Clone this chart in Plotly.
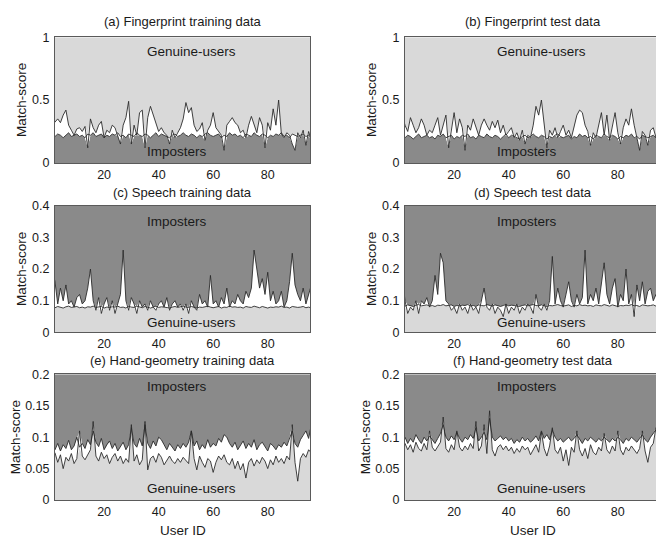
import plotly.graph_objects as go

# ---------------- data ----------------
user_ids = list(range(1, 97))

fp_train_imposter = [
    0.22, 0.21, 0.23, 0.22, 0.20, 0.22, 0.24, 0.21, 0.22, 0.23, 0.21, 0.22,
    0.20, 0.23, 0.22, 0.24, 0.21, 0.22, 0.23, 0.20, 0.22, 0.21, 0.23, 0.22,
    0.24, 0.21, 0.22, 0.20, 0.23, 0.22, 0.21, 0.24, 0.22, 0.21, 0.23, 0.22,
    0.20, 0.22, 0.24, 0.21, 0.23, 0.22, 0.21, 0.20, 0.22, 0.23, 0.21, 0.22,
    0.24, 0.22, 0.21, 0.23, 0.22, 0.20, 0.22, 0.21, 0.23, 0.24, 0.22, 0.21,
    0.22, 0.23, 0.20, 0.22, 0.21, 0.24, 0.22, 0.23, 0.21, 0.22, 0.20, 0.23,
    0.22, 0.21, 0.24, 0.22, 0.21, 0.23, 0.22, 0.20, 0.22, 0.21, 0.23, 0.22,
    0.24, 0.21, 0.22, 0.20, 0.23, 0.22, 0.21, 0.22, 0.23, 0.21, 0.22, 0.20]
fp_train_genuine = [
    0.30, 0.33, 0.35, 0.32, 0.38, 0.42, 0.30, 0.26, 0.22, 0.27, 0.28, 0.25,
    0.29, 0.12, 0.35, 0.28, 0.24, 0.30, 0.33, 0.20, 0.26, 0.24, 0.30, 0.28,
    0.22, 0.15, 0.30, 0.36, 0.49, 0.15, 0.30, 0.22, 0.40, 0.42, 0.12, 0.36,
    0.45, 0.38, 0.30, 0.25, 0.28, 0.24, 0.22, 0.15, 0.26, 0.20, 0.24, 0.28,
    0.35, 0.48, 0.40, 0.44, 0.30, 0.25, 0.27, 0.32, 0.18, 0.26, 0.30, 0.40,
    0.28, 0.25, 0.22, 0.10, 0.30, 0.33, 0.36, 0.32, 0.30, 0.24, 0.26, 0.20,
    0.30, 0.37, 0.30, 0.24, 0.36, 0.30, 0.12, 0.32, 0.26, 0.43, 0.30, 0.50,
    0.23, 0.20, 0.24, 0.22, 0.15, 0.10, 0.24, 0.20, 0.26, 0.14, 0.25, 0.18]

fp_test_imposter = [
    0.21, 0.20, 0.22, 0.21, 0.19, 0.21, 0.23, 0.20, 0.21, 0.22, 0.20, 0.21,
    0.19, 0.22, 0.21, 0.23, 0.20, 0.21, 0.22, 0.19, 0.21, 0.20, 0.22, 0.21,
    0.23, 0.20, 0.21, 0.19, 0.22, 0.21, 0.20, 0.23, 0.21, 0.20, 0.22, 0.21,
    0.19, 0.21, 0.23, 0.20, 0.22, 0.21, 0.20, 0.19, 0.21, 0.22, 0.20, 0.21,
    0.23, 0.21, 0.20, 0.22, 0.21, 0.19, 0.21, 0.20, 0.22, 0.23, 0.21, 0.20,
    0.21, 0.22, 0.19, 0.21, 0.20, 0.23, 0.21, 0.22, 0.20, 0.21, 0.19, 0.22,
    0.21, 0.20, 0.23, 0.21, 0.20, 0.22, 0.21, 0.19, 0.21, 0.20, 0.22, 0.21,
    0.23, 0.20, 0.21, 0.19, 0.22, 0.21, 0.20, 0.21, 0.22, 0.20, 0.21, 0.19]
fp_test_genuine = [
    0.38, 0.30, 0.25, 0.36, 0.30, 0.24, 0.28, 0.35, 0.30, 0.22, 0.26, 0.24,
    0.30, 0.36, 0.22, 0.30, 0.38, 0.12, 0.28, 0.40, 0.24, 0.35, 0.28, 0.10,
    0.30, 0.26, 0.35, 0.28, 0.22, 0.30, 0.35, 0.30, 0.26, 0.33, 0.28, 0.34,
    0.24, 0.30, 0.22, 0.25, 0.28, 0.20, 0.24, 0.18, 0.26, 0.15, 0.22, 0.20,
    0.30, 0.45, 0.38, 0.50, 0.30, 0.12, 0.26, 0.22, 0.28, 0.20, 0.25, 0.30,
    0.22, 0.26, 0.20, 0.28, 0.38, 0.42, 0.40, 0.30, 0.25, 0.14, 0.24, 0.20,
    0.30, 0.40, 0.22, 0.38, 0.18, 0.30, 0.40, 0.24, 0.15, 0.28, 0.35, 0.30,
    0.43, 0.30, 0.20, 0.10, 0.25, 0.22, 0.14, 0.26, 0.28, 0.20, 0.18, 0.22]

sp_train_genuine = [
    0.080, 0.078, 0.082, 0.080, 0.077, 0.081, 0.083, 0.079, 0.080, 0.082, 0.078, 0.080,
    0.077, 0.081, 0.080, 0.083, 0.079, 0.080, 0.082, 0.077, 0.080, 0.079, 0.081, 0.080,
    0.083, 0.079, 0.080, 0.077, 0.082, 0.080, 0.079, 0.083, 0.080, 0.078, 0.082, 0.080,
    0.077, 0.080, 0.083, 0.079, 0.081, 0.080, 0.078, 0.077, 0.080, 0.082, 0.079, 0.080,
    0.083, 0.080, 0.079, 0.082, 0.080, 0.077, 0.080, 0.079, 0.081, 0.083, 0.080, 0.078,
    0.080, 0.082, 0.077, 0.080, 0.079, 0.083, 0.080, 0.081, 0.079, 0.080, 0.077, 0.082,
    0.080, 0.079, 0.083, 0.080, 0.078, 0.082, 0.080, 0.077, 0.080, 0.079, 0.081, 0.080,
    0.083, 0.079, 0.080, 0.077, 0.082, 0.080, 0.079, 0.080, 0.082, 0.078, 0.080, 0.077]
sp_train_imposter = [
    0.20, 0.16, 0.09, 0.14, 0.10, 0.15, 0.09, 0.10, 0.08, 0.11, 0.12, 0.09,
    0.10, 0.14, 0.20, 0.10, 0.07, 0.11, 0.06, 0.09, 0.11, 0.07, 0.10, 0.06,
    0.09, 0.12, 0.26, 0.10, 0.07, 0.11, 0.09, 0.06, 0.10, 0.08, 0.09, 0.07,
    0.10, 0.08, 0.07, 0.09, 0.10, 0.08, 0.11, 0.07, 0.09, 0.10, 0.08, 0.09,
    0.07, 0.09, 0.06, 0.10, 0.08, 0.07, 0.12, 0.09, 0.10, 0.08, 0.18, 0.09,
    0.10, 0.08, 0.11, 0.09, 0.14, 0.08, 0.10, 0.09, 0.12, 0.10, 0.09, 0.13,
    0.11, 0.14, 0.26, 0.20, 0.14, 0.17, 0.12, 0.19, 0.10, 0.13, 0.09, 0.10,
    0.13, 0.08, 0.10, 0.16, 0.25, 0.15, 0.12, 0.10, 0.14, 0.09, 0.12, 0.15]

sp_test_genuine = [
    0.085, 0.083, 0.087, 0.085, 0.082, 0.086, 0.088, 0.084, 0.085, 0.087, 0.083, 0.085,
    0.082, 0.086, 0.085, 0.088, 0.084, 0.085, 0.087, 0.082, 0.085, 0.084, 0.086, 0.085,
    0.088, 0.084, 0.085, 0.082, 0.087, 0.085, 0.084, 0.088, 0.085, 0.083, 0.087, 0.085,
    0.082, 0.085, 0.088, 0.084, 0.086, 0.085, 0.083, 0.082, 0.085, 0.087, 0.084, 0.085,
    0.088, 0.085, 0.084, 0.087, 0.085, 0.082, 0.085, 0.084, 0.086, 0.088, 0.085, 0.083,
    0.085, 0.087, 0.082, 0.085, 0.084, 0.088, 0.085, 0.086, 0.084, 0.085, 0.082, 0.087,
    0.085, 0.084, 0.088, 0.085, 0.083, 0.087, 0.085, 0.082, 0.085, 0.084, 0.086, 0.085,
    0.088, 0.084, 0.085, 0.082, 0.087, 0.085, 0.084, 0.085, 0.087, 0.083, 0.085, 0.082]
sp_test_imposter = [
    0.18, 0.10, 0.06, 0.08, 0.07, 0.10, 0.06, 0.10, 0.09, 0.11, 0.08, 0.10,
    0.18, 0.12, 0.25, 0.22, 0.10, 0.09, 0.07, 0.08, 0.06, 0.09, 0.07, 0.08,
    0.06, 0.09, 0.07, 0.08, 0.06, 0.10, 0.14, 0.08, 0.07, 0.09, 0.06, 0.08,
    0.07, 0.05, 0.09, 0.06, 0.08, 0.07, 0.09, 0.06, 0.08, 0.07, 0.09, 0.08,
    0.06, 0.12, 0.08, 0.07, 0.09, 0.07, 0.10, 0.24, 0.09, 0.14, 0.10, 0.08,
    0.12, 0.16, 0.10, 0.08, 0.12, 0.09, 0.11, 0.26, 0.09, 0.12, 0.10, 0.14,
    0.09, 0.16, 0.22, 0.12, 0.09, 0.14, 0.17, 0.08, 0.12, 0.10, 0.20, 0.09,
    0.12, 0.05, 0.15, 0.10, 0.16, 0.09, 0.13, 0.14, 0.10, 0.12, 0.09, 0.11]

hg_train_imposter = [
    0.085, 0.080, 0.090, 0.078, 0.088, 0.082, 0.095, 0.080, 0.086, 0.100, 0.084, 0.090,
    0.082, 0.096, 0.088, 0.110, 0.092, 0.085, 0.098, 0.080, 0.088, 0.094, 0.082, 0.090,
    0.078, 0.086, 0.092, 0.080, 0.088, 0.115, 0.090, 0.084, 0.098, 0.086, 0.120, 0.090,
    0.082, 0.094, 0.086, 0.100, 0.096, 0.088, 0.080, 0.090, 0.084, 0.078, 0.088, 0.082,
    0.090, 0.084, 0.092, 0.110, 0.086, 0.094, 0.080, 0.088, 0.082, 0.096, 0.084, 0.090,
    0.086, 0.098, 0.092, 0.104, 0.100, 0.090, 0.084, 0.092, 0.080, 0.088, 0.094, 0.082,
    0.090, 0.084, 0.096, 0.080, 0.088, 0.092, 0.084, 0.078, 0.090, 0.086, 0.080, 0.088,
    0.084, 0.092, 0.086, 0.100, 0.110, 0.090, 0.084, 0.096, 0.104, 0.110, 0.098, 0.120]
hg_train_genuine = [
    0.070, 0.075, 0.060, 0.072, 0.050, 0.068, 0.062, 0.074, 0.058, 0.066, 0.110, 0.070,
    0.064, 0.072, 0.080, 0.125, 0.070, 0.062, 0.076, 0.066, 0.072, 0.058, 0.068, 0.074,
    0.062, 0.070, 0.058, 0.066, 0.060, 0.120, 0.062, 0.072, 0.056, 0.064, 0.125, 0.048,
    0.066, 0.070, 0.060, 0.074, 0.068, 0.056, 0.064, 0.070, 0.062, 0.058, 0.066, 0.060,
    0.068, 0.062, 0.058, 0.110, 0.066, 0.048, 0.070, 0.060, 0.052, 0.066, 0.062, 0.044,
    0.060, 0.070, 0.064, 0.072, 0.060, 0.056, 0.066, 0.050, 0.062, 0.048, 0.058, 0.035,
    0.060, 0.066, 0.054, 0.064, 0.058, 0.068, 0.062, 0.050, 0.064, 0.056, 0.070, 0.060,
    0.066, 0.058, 0.070, 0.064, 0.120, 0.060, 0.030, 0.066, 0.074, 0.068, 0.080, 0.075]

hg_test_imposter = [
    0.095, 0.100, 0.090, 0.098, 0.092, 0.104, 0.096, 0.090, 0.100, 0.094, 0.102, 0.096,
    0.090, 0.098, 0.106, 0.120, 0.100, 0.094, 0.102, 0.096, 0.108, 0.098, 0.092, 0.100,
    0.096, 0.104, 0.098, 0.115, 0.094, 0.100, 0.108, 0.096, 0.130, 0.100, 0.094, 0.098,
    0.102, 0.096, 0.100, 0.094, 0.098, 0.090, 0.096, 0.092, 0.100, 0.094, 0.098, 0.092,
    0.096, 0.102, 0.094, 0.110, 0.098, 0.104, 0.096, 0.112, 0.100, 0.094, 0.098, 0.092,
    0.096, 0.100, 0.094, 0.098, 0.104, 0.096, 0.090, 0.098, 0.094, 0.100, 0.096, 0.092,
    0.098, 0.094, 0.100, 0.096, 0.092, 0.098, 0.094, 0.100, 0.096, 0.090, 0.098, 0.094,
    0.100, 0.096, 0.092, 0.098, 0.104, 0.096, 0.092, 0.100, 0.106, 0.112, 0.108, 0.100]
hg_test_genuine = [
    0.085, 0.090, 0.080, 0.088, 0.076, 0.092, 0.082, 0.078, 0.090, 0.080, 0.110, 0.084,
    0.078, 0.086, 0.092, 0.132, 0.082, 0.076, 0.088, 0.080, 0.110, 0.084, 0.078, 0.086,
    0.080, 0.090, 0.082, 0.125, 0.078, 0.086, 0.120, 0.074, 0.142, 0.080, 0.070, 0.084,
    0.088, 0.080, 0.086, 0.078, 0.084, 0.074, 0.082, 0.076, 0.086, 0.080, 0.084, 0.072,
    0.080, 0.088, 0.076, 0.108, 0.082, 0.070, 0.086, 0.115, 0.080, 0.074, 0.084, 0.062,
    0.080, 0.055, 0.084, 0.076, 0.110, 0.080, 0.070, 0.082, 0.066, 0.088, 0.076, 0.072,
    0.084, 0.078, 0.106, 0.080, 0.074, 0.086, 0.078, 0.110, 0.080, 0.072, 0.084, 0.078,
    0.086, 0.080, 0.074, 0.082, 0.110, 0.078, 0.060, 0.084, 0.090, 0.115, 0.100, 0.095]

titles = ["(a) Fingerprint training data", "(b) Fingerprint test data",
          "(c) Speech training data", "(d) Speech test data",
          "(e) Hand-geometry training data", "(f) Hand-geometry test data"]
y_max = [1.0, 1.0, 0.4, 0.4, 0.2, 0.2]
y_ticks = [[0, 0.5, 1], [0, 0.5, 1],
           [0, 0.1, 0.2, 0.3, 0.4], [0, 0.1, 0.2, 0.3, 0.4],
           [0, 0.05, 0.1, 0.15, 0.2], [0, 0.05, 0.1, 0.15, 0.2]]
y_ticktext = [["0", "0.5", "1"], ["0", "0.5", "1"],
              ["0", "0.1", "0.2", "0.3", "0.4"], ["0", "0.1", "0.2", "0.3", "0.4"],
              ["0", "0.05", "0.1", "0.15", "0.2"], ["0", "0.05", "0.1", "0.15", "0.2"]]
x_ticks = [20, 40, 60, 80]
series = [(fp_train_imposter, fp_train_genuine), (fp_test_imposter, fp_test_genuine),
          (sp_train_genuine, sp_train_imposter), (sp_test_genuine, sp_test_imposter),
          (hg_train_genuine, hg_train_imposter), (hg_test_genuine, hg_test_imposter)]
low_label = ["Imposters", "Imposters", "Genuine-users", "Genuine-users",
             "Genuine-users", "Genuine-users"]
high_label = ["Genuine-users", "Genuine-users", "Imposters", "Imposters",
              "Imposters", "Imposters"]
high_label_y = [0.89, 0.89, 0.35, 0.35, 0.18, 0.18]
low_label_y = [0.09, 0.09, 0.031, 0.031, 0.018, 0.018]

for a, b in series:
    assert len(a) == len(user_ids) and len(b) == len(user_ids)

# ---------------- style / layout ----------------
W, H = 656, 546
DARK = "#8a8a8a"
LIGHT = "#d9d9d9"
LINE = "#2a2a2a"
FONT = "Liberation Sans, Arial, Helvetica, sans-serif"
TXT = "#1a1a1a"
FS = 13.5      # in-plot labels, y titles
TITLE_FS = 13
TFS = 12.5     # tick labels

col_px = [(55, 310), (405, 656)]
row_px = [(31, 160), (204, 334), (377, 506)]
title_y_px = [15, 190, 363]
ylabel_offset = [34, 34, 40]
x_ranges = [[2, 95.5], [2, 94.0]]

low_fill = [DARK, DARK, LIGHT, LIGHT, LIGHT, LIGHT]
high_fill = [LIGHT, LIGHT, DARK, DARK, DARK, DARK]

fig = go.Figure()
annotations = []

for i in range(6):
    r, c = divmod(i, 2)
    ax = "" if i == 0 else str(i + 1)
    xa, ya = "x" + ax, "y" + ax
    a, b = series[i]
    lo = [min(p, q) for p, q in zip(a, b)]
    hi = [max(p, q) for p, q in zip(a, b)]
    top = [y_max[i] for _ in user_ids]

    fig.add_trace(go.Scatter(x=user_ids, y=lo, mode="lines", line=dict(width=0),
                             fill="tozeroy", fillcolor=low_fill[i], xaxis=xa, yaxis=ya,
                             hoverinfo="skip", showlegend=False))
    fig.add_trace(go.Scatter(x=user_ids, y=hi, mode="lines", line=dict(width=0),
                             fill="tonexty", fillcolor="white", xaxis=xa, yaxis=ya,
                             hoverinfo="skip", showlegend=False))
    fig.add_trace(go.Scatter(x=user_ids, y=top, mode="lines", line=dict(width=0),
                             fill="tonexty", fillcolor=high_fill[i], xaxis=xa, yaxis=ya,
                             hoverinfo="skip", showlegend=False))
    fig.add_trace(go.Scatter(x=user_ids, y=a, mode="lines", line=dict(color=LINE, width=0.9),
                             xaxis=xa, yaxis=ya, showlegend=False))
    fig.add_trace(go.Scatter(x=user_ids, y=b, mode="lines", line=dict(color=LINE, width=0.9),
                             xaxis=xa, yaxis=ya, showlegend=False))

    x0, x1 = col_px[c]
    y0, y1 = row_px[r]
    fig.update_layout(**{
        "xaxis" + ax: dict(domain=[x0 / W, x1 / W], range=x_ranges[c], anchor=ya,
                           tickvals=x_ticks, showgrid=False, zeroline=False,
                           showline=True, linecolor="#5a5a5a", linewidth=1, mirror=True,
                           ticks="",
                           tickfont=dict(family=FONT, size=TFS, color=TXT)),
        "yaxis" + ax: dict(domain=[1 - y1 / H, 1 - y0 / H], range=[0, y_max[i]], anchor=xa,
                           tickvals=y_ticks[i], ticktext=y_ticktext[i],
                           showgrid=False, zeroline=False,
                           showline=True, linecolor="#5a5a5a", linewidth=1,
                           mirror=(c == 0),
                           ticks="outside", ticklen=2, tickcolor="rgba(0,0,0,0)",
                           tickfont=dict(family=FONT, size=TFS, color=TXT)),
    })

    cx = (x0 + (x0 + 255)) / 2
    annotations.append(dict(text=titles[i], x=cx / W, y=1 - title_y_px[r] / H,
                            xref="paper", yref="paper", showarrow=False,
                            xanchor="center", yanchor="middle",
                            font=dict(family=FONT, size=TITLE_FS, color=TXT)))
    annotations.append(dict(text="Match-score", x=(x0 - ylabel_offset[r]) / W,
                            y=1 - ((y0 + y1) / 2) / H,
                            xref="paper", yref="paper", showarrow=False, textangle=-90,
                            xanchor="center", yanchor="middle",
                            font=dict(family=FONT, size=FS, color=TXT)))
    annotations.append(dict(text=high_label[i], x=35, y=high_label_y[i], xref=xa, yref=ya,
                            showarrow=False, xanchor="left", yanchor="middle",
                            font=dict(family=FONT, size=FS, color=TXT)))
    annotations.append(dict(text=low_label[i], x=35, y=low_label_y[i], xref=xa, yref=ya,
                            showarrow=False, xanchor="left", yanchor="middle",
                            font=dict(family=FONT, size=FS, color=TXT)))
    if r == 2:
        annotations.append(dict(text="User ID", x=cx / W, y=1 - 537 / H,
                                xref="paper", yref="paper", showarrow=False,
                                xanchor="center", yanchor="middle",
                                font=dict(family=FONT, size=FS, color=TXT)))

fig.update_layout(width=W, height=H, margin=dict(l=0, r=0, t=0, b=0),
                  paper_bgcolor="white", plot_bgcolor="white",
                  annotations=annotations, showlegend=False)

fig.write_html("out.html", config={"displayModeBar": False},
               post_script="document.body.style.margin='0';document.body.style.overflow='hidden';")
